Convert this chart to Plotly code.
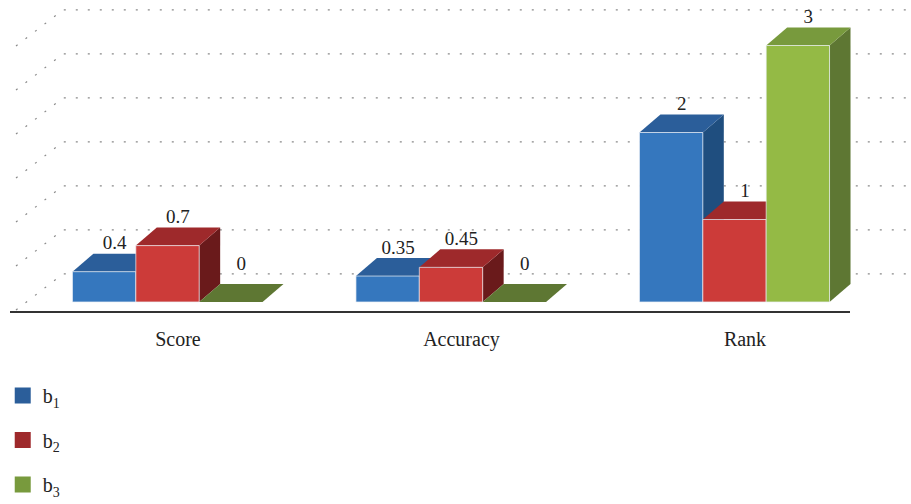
import plotly.graph_objects as go

# ---- data ----
categories = ["Score", "Accuracy", "Rank"]
series_names = ["b<sub>1</sub>", "b<sub>2</sub>", "b<sub>3</sub>"]
b1 = [0.4, 0.35, 2]
b2 = [0.7, 0.45, 1]
b3 = [0, 0, 3]
value_labels = [["0.4", "0.35", "2"], ["0.7", "0.45", "1"], ["0", "0", "3"]]
grid_values = [0, 0.5, 1, 1.5, 2, 2.5, 3]

# ---- styles ----
front_colors = ["#3577BE", "#CC3B39", "#94BA45"]
top_colors = ["#2B5E9A", "#9E292B", "#789A3D"]
side_colors = ["#1F4E7F", "#6A1A1B", "#5E7733"]

FONT = "Liberation Serif"
# geometry in data units
BAR_W = 0.2235
BAR_BASE = 0.052                 # bars stand slightly above the floor line level
DX, DY = 0.074, 0.207            # bar depth offset
WALL_DY = 0.374                  # back wall zero level offset
GRID_K = 88.0 / 87.0             # back-wall grid spacing factor
FLOOR_Y = -0.063                 # front floor edge (axis line)
LABEL_DY = 0.31
ZERO_LABEL_DY = 0.22
X_PIX0, X_SCALE = 167.5, 283.5
Y_PIX0, Y_SCALE = 306.5, 87.0
W, H = 911, 504

fig = go.Figure()

# back-wall dotted grid + left wall diagonals
gx0 = (63 - X_PIX0) / X_SCALE
gx1 = (W - X_PIX0) / X_SCALE
dlx = (16 - X_PIX0) / X_SCALE
for g in grid_values:
    yb = g * GRID_K + WALL_DY
    fig.add_trace(go.Scatter(
        x=[dlx, gx0, gx1], y=[yb - 0.414, yb, yb], mode="lines",
        line=dict(color="#8a8a8a", width=1.2, dash="2px,10px"),
        hoverinfo="skip", showlegend=False))

# axis line (front edge of floor)
fig.add_trace(go.Scatter(
    x=[(10 - X_PIX0) / X_SCALE, (850 - X_PIX0) / X_SCALE], y=[FLOOR_Y, FLOOR_Y],
    mode="lines", line=dict(color="#333333", width=2),
    hoverinfo="skip", showlegend=False))

series = [b1, b2, b3]
for ci in range(len(categories)):
    for si, vals in enumerate(series):
        v = vals[ci]
        xl = ci + (si - 1.5) * BAR_W
        xr = xl + BAR_W
        b0 = BAR_BASE
        top_y = max(v, b0)
        # side face
        fig.add_trace(go.Scatter(
            x=[xr, xr, xr + DX, xr + DX, xr], y=[b0, top_y, top_y + DY, b0 + DY, b0],
            mode="lines", fill="toself", fillcolor=side_colors[si],
            line=dict(width=0, color=side_colors[si]),
            hoverinfo="skip", showlegend=False))
        # top face
        tc = top_colors[si] if v > 0 else side_colors[si]
        fig.add_trace(go.Scatter(
            x=[xl, xl + DX, xr + DX, xr, xl],
            y=[top_y, top_y + DY, top_y + DY, top_y, top_y],
            mode="lines", fill="toself", fillcolor=tc,
            line=dict(width=0, color=tc),
            hoverinfo="skip", showlegend=False))
        # front face
        if v > b0:
            fig.add_trace(go.Scatter(
                x=[xl, xl, xr, xr, xl], y=[b0, v, v, b0, b0],
                mode="lines", fill="toself", fillcolor=front_colors[si],
                line=dict(width=1, color="rgba(235,240,245,0.7)"),
                hoverinfo="skip", showlegend=False))

# value labels
for si, vals in enumerate(series):
    xs = [ci + (si - 1) * BAR_W + DX / 2 for ci in range(len(categories))]
    ys = [v + LABEL_DY if v > 0 else BAR_BASE + DY + ZERO_LABEL_DY for v in vals]
    fig.add_trace(go.Scatter(
        x=xs, y=ys, mode="text", text=value_labels[si], textposition="middle center",
        textfont=dict(family=FONT, size=19, color="#222222"),
        hoverinfo="skip", showlegend=False))

# category labels
fig.add_trace(go.Scatter(
    x=[ci + 0.037 for ci in range(len(categories))], y=[-0.397] * len(categories),
    mode="text", text=categories, textposition="middle center",
    textfont=dict(family=FONT, size=20, color="#222222"),
    hoverinfo="skip", showlegend=False))

# legend entries
for si, name in enumerate(series_names):
    fig.add_trace(go.Scatter(
        x=[None], y=[None], mode="markers", name=name, legendgroup=f"g{si}",
        marker=dict(symbol="square", size=16, color=top_colors[si])))

fig.update_layout(
    width=W, height=H,
    margin=dict(l=0, r=0, t=0, b=0, autoexpand=False),
    paper_bgcolor="white", plot_bgcolor="white",
    xaxis=dict(visible=False, range=[-X_PIX0 / X_SCALE, (W - X_PIX0) / X_SCALE], fixedrange=True),
    yaxis=dict(visible=False, range=[(Y_PIX0 - H) / Y_SCALE, Y_PIX0 / Y_SCALE], fixedrange=True),
    legend=dict(x=0.003, xanchor="left", y=1 - 376 / H, yanchor="top",
                font=dict(family=FONT, size=20, color="#222222"),
                tracegroupgap=15.5, bgcolor="rgba(0,0,0,0)"),
    showlegend=True,
)

fig.write_html("out.html")
